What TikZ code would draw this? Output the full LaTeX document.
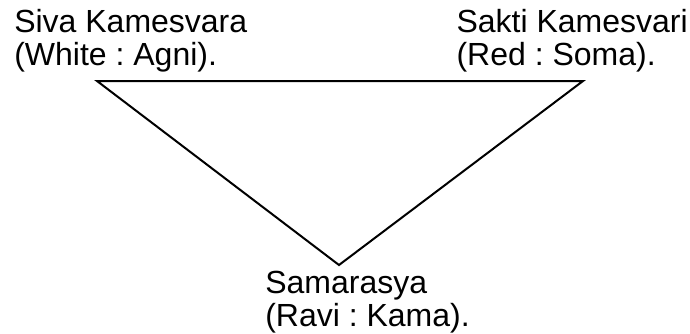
\documentclass[tikz,border=0pt]{standalone}
\usepackage{fontspec}
\setmainfont{Liberation Sans}
\usetikzlibrary{positioning}
\tikzstyle{deity} = [inner sep=0pt, align=left, anchor=north west, font=\fontsize{24}{24.75}\selectfont\frenchspacing]
\tikzstyle{triside} = [line width=1.5pt, line join=miter]

\begin{document}
\begin{tikzpicture}[x=0.75pt, y=-0.75pt]
		\useasboundingbox (0,0) rectangle (690,333);
		\coordinate (siva) at (97,81);
		\coordinate (sakti) at (583,81);
		\coordinate (sama) at (339,265);
		\node (lsiva) [deity] at (14,9) {
			Siva Kamesvara\\
			(White : Agni).
		};
		\node (lsakti) [deity, anchor=north east] at (688,9) {
			Sakti Kamesvari\\
			(Red : Soma).
		};
		\node (lsama) [deity] at (265,271) {
			Samarasya\\
			(Ravi : Kama).
		};
		\draw [triside] (siva) -- (sakti) -- (sama) -- cycle;
	\end{tikzpicture}
\end{document}
